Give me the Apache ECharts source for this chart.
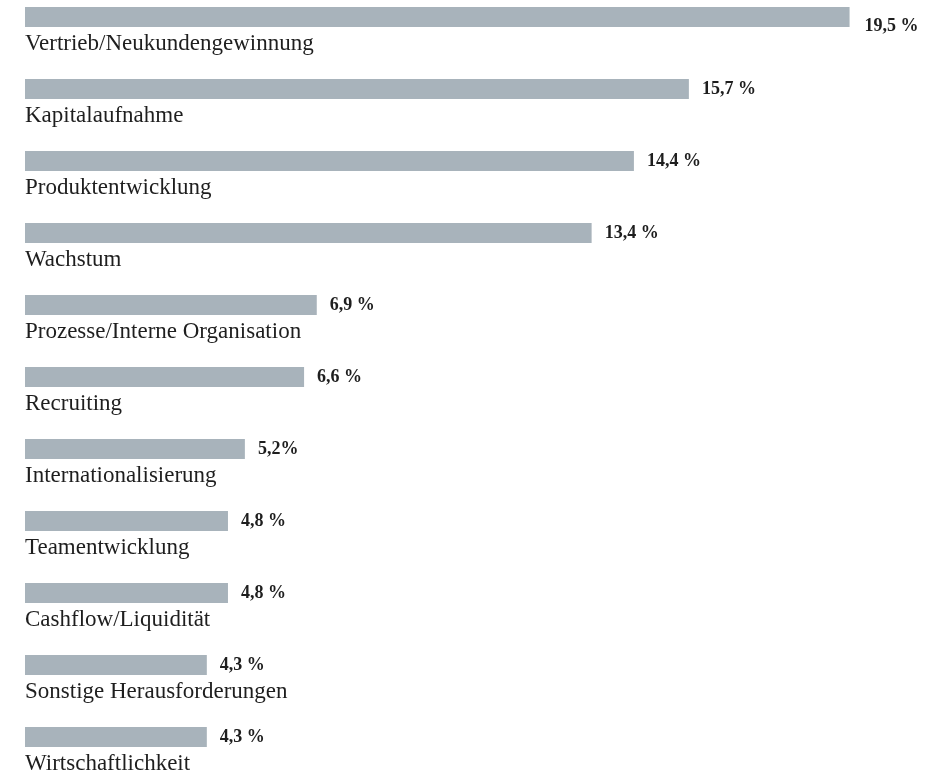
<!DOCTYPE html>
<html>
<head>
<meta charset="utf-8">
<script src="https://cdn.jsdelivr.net/npm/echarts@6/dist/echarts.min.js"></script>
<style>
  html, body { margin: 0; padding: 0; background: #ffffff; }
  #chart { width: 936px; height: 777px; }
</style>
</head>
<body>
<div id="chart"></div>
<script>
// Herausforderungen, Anteil in Prozent
const categories = [
  'Vertrieb/Neukundengewinnung',
  'Kapitalaufnahme',
  'Produktentwicklung',
  'Wachstum',
  'Prozesse/Interne Organisation',
  'Recruiting',
  'Internationalisierung',
  'Teamentwicklung',
  'Cashflow/Liquidität',
  'Sonstige Herausforderungen',
  'Wirtschaftlichkeit'
];
const values = [19.5, 15.7, 14.4, 13.4, 6.9, 6.6, 5.2, 4.8, 4.8, 4.3, 4.3];
const valueLabels = ['19,5 %', '15,7 %', '14,4 %', '13,4 %', '6,9 %', '6,6 %', '5,2%', '4,8 %', '4,8 %', '4,3 %', '4,3 %'];

const SERIF = '"Liberation Serif", "DejaVu Serif", serif';
const BAR_COLOR = '#a8b3bb';
const TEXT_COLOR = '#1e1e1e';

const chart = echarts.init(document.getElementById('chart'), null, { renderer: 'canvas' });

const barData = values.map((v, i) => {
  const item = { value: v };
  // the longest bar's value sits a little lower, beside the bar's end
  if (i === 0) item.label = { offset: [2, 9] };
  return item;
});

chart.setOption({
  animation: false,
  backgroundColor: '#ffffff',
  grid: { left: 25, right: 23, top: 17, bottom: 40, containLabel: false },
  xAxis: {
    type: 'value', min: 0, max: 21,
    show: false
  },
  yAxis: {
    type: 'category',
    data: categories,
    inverse: true,
    boundaryGap: false,
    show: false
  },
  series: [
    {
      name: 'Anteil',
      type: 'bar',
      data: barData,
      barWidth: 20,
      itemStyle: { color: BAR_COLOR },
      label: {
        show: true,
        position: 'right',
        distance: 13,
        fontFamily: SERIF,
        fontWeight: 'bold',
        fontSize: 18,
        color: TEXT_COLOR,
        formatter: p => valueLabels[p.dataIndex]
      },
      silent: true,
      z: 2
    },
    {
      // carries the category names underneath each bar
      name: 'Kategorie',
      type: 'bar',
      data: values,
      barWidth: 20,
      barGap: '-100%',
      itemStyle: { color: 'rgba(0,0,0,0)' },
      label: {
        show: true,
        position: [0, 25],
        align: 'left',
        verticalAlign: 'top',
        fontFamily: SERIF,
        fontSize: 23,
        lineHeight: 23,
        color: TEXT_COLOR,
        formatter: p => categories[p.dataIndex]
      },
      silent: true,
      z: 1
    }
  ]
});
</script>
</body>
</html>
